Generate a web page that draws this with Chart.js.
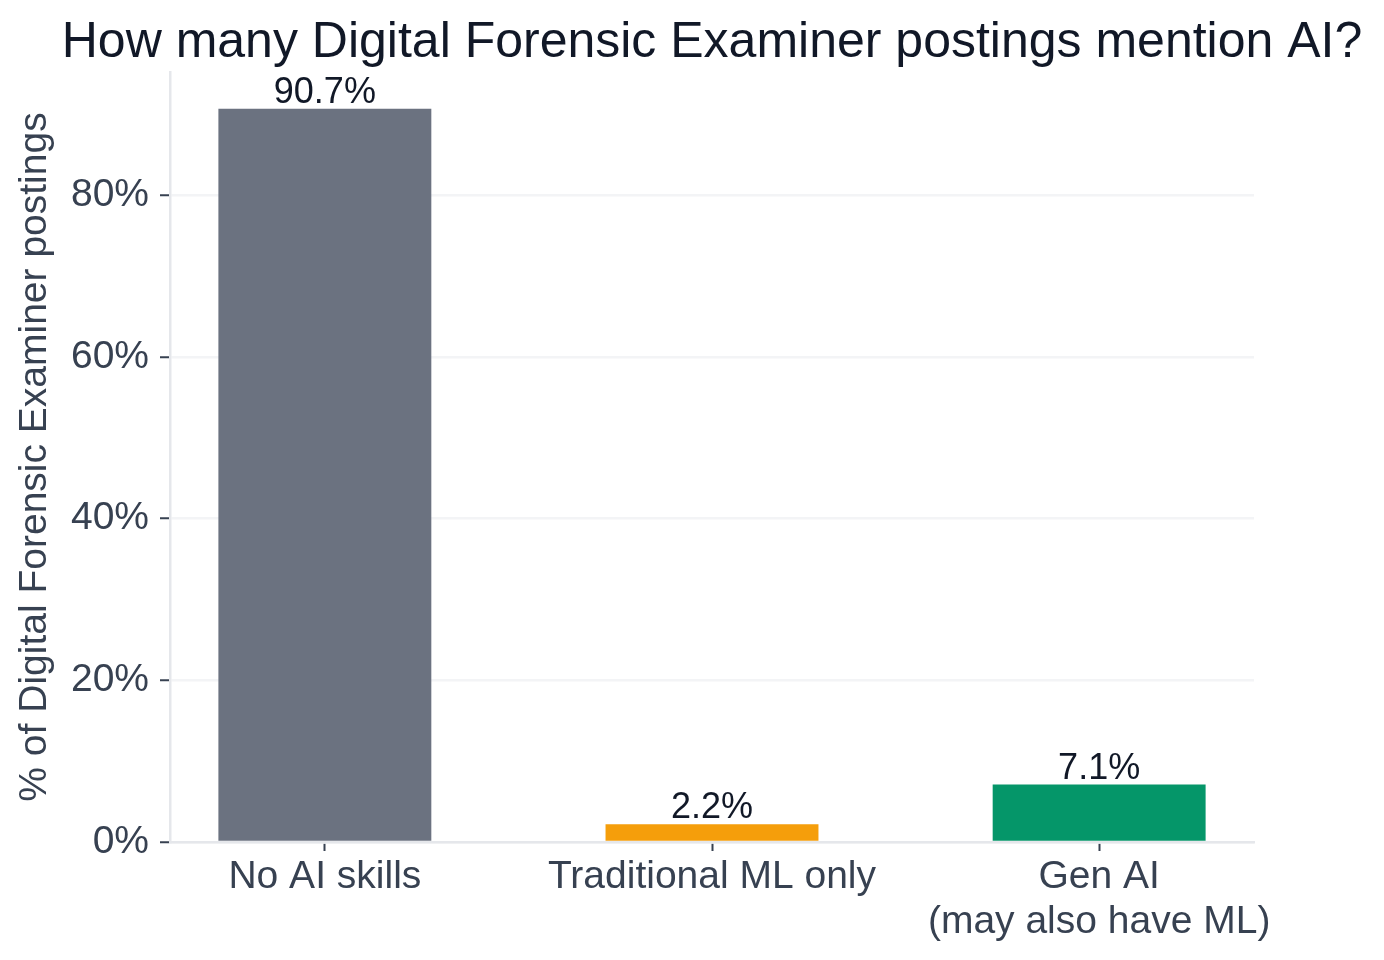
<!DOCTYPE html>
<html>
<head>
<meta charset="utf-8">
<script src="https://cdn.jsdelivr.net/npm/chart.js@4"></script>
<style>
  html, body { margin: 0; padding: 0; background: #ffffff; }
  #c { display: block; }
</style>
</head>
<body>
<canvas id="c" width="1384" height="960"></canvas>
<script>
const chartTitle = "How many Digital Forensic Examiner postings mention AI?";
const yAxisTitle = "% of Digital Forensic Examiner postings";
const categories = [["No AI skills"], ["Traditional ML only"], ["Gen AI", "(may also have ML)"]];
const values = [90.7, 2.2, 7.1];
const barColors = ["#6b7280", "#f59e0b", "#059669"];
const yTicks = [0, 20, 40, 60, 80];
const yMax = 90.7 * 1.05;

const FONT = "'Liberation Sans', Arial, Helvetica, sans-serif";

const valueLabels = {
  id: 'valueLabels',
  afterDatasetsDraw(chart) {
    const ctx = chart.ctx;
    const meta = chart.getDatasetMeta(0);
    ctx.save();
    ctx.font = "36px " + FONT;
    ctx.fillStyle = "#111827";
    ctx.textAlign = "center";
    ctx.textBaseline = "alphabetic";
    meta.data.forEach((el, i) => {
      ctx.fillText(values[i].toFixed(1) + "%", el.x, el.y - 6);
    });
    ctx.restore();
  }
};

const centeredTitle = {
  id: 'centeredTitle',
  afterDraw(chart) {
    const ctx = chart.ctx;
    const a = chart.chartArea;
    ctx.save();
    ctx.font = "50px " + FONT;
    ctx.fillStyle = "#111827";
    ctx.textAlign = "center";
    ctx.textBaseline = "alphabetic";
    ctx.fillText(chartTitle, (a.left + a.right) / 2, 57);
    ctx.restore();
  }
};

new Chart(document.getElementById('c'), {
  type: 'bar',
  data: {
    datasets: [{
      data: values.map((v, i) => ({ x: i, y: v })),
      backgroundColor: barColors,
      borderWidth: 0,
      categoryPercentage: 1.0,
      barPercentage: 0.55
    }]
  },
  options: {
    responsive: false,
    animation: false,
    devicePixelRatio: 1,
    layout: { padding: { left: 0, top: 72, right: 130, bottom: 0 } },
    plugins: {
      legend: { display: false },
      title: { display: false },
      tooltip: { enabled: false }
    },
    scales: {
      x: {
        type: 'linear',
        min: -0.4,
        max: 2.4,
        offset: false,
        afterBuildTicks(scale) { scale.ticks = categories.map((c, i) => ({ value: i })); },
        afterFit(scale) { scale.height = 118; },
        ticks: {
          callback: (v) => categories[v],
          color: "#374151",
          font: { family: FONT, size: 39, lineHeight: 1.15 },
          padding: 4,
          maxRotation: 0,
          autoSkip: false
        },
        grid: {
          offset: false,
          drawOnChartArea: false,
          drawTicks: true,
          tickLength: 9,
          tickColor: "#374151",
          tickWidth: 2
        },
        border: { display: true, color: "#e5e7eb", width: 2.5 }
      },
      y: {
        type: 'linear',
        min: 0,
        max: yMax,
        afterBuildTicks(scale) { scale.ticks = yTicks.map(v => ({ value: v })); },
        afterFit(scale) { scale.width = 170; },
        ticks: {
          callback: (v) => v + "%",
          color: "#374151",
          font: { family: FONT, size: 39 },
          padding: 11
        },
        grid: {
          drawOnChartArea: true,
          color: "#f3f4f6",
          lineWidth: 2.5,
          drawTicks: true,
          tickLength: 10,
          tickColor: "#374151",
          tickWidth: 2
        },
        border: { display: true, color: "#e5e7eb", width: 2.5 },
        title: {
          display: true,
          text: yAxisTitle,
          color: "#374151",
          font: { family: FONT, size: 39 },
          padding: { top: 12, bottom: 0 }
        }
      }
    }
  },
  plugins: [valueLabels, centeredTitle]
});
</script>
</body>
</html>
